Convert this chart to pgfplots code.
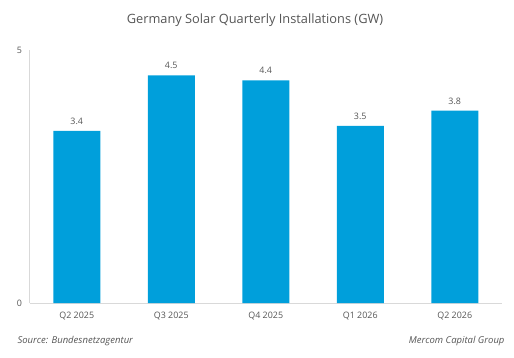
\documentclass[border=0pt]{standalone}
\usepackage{pgfplots}
\pgfplotsset{compat=1.18}
\usepackage{fontspec}
\setmainfont{Open Sans}
\definecolor{barblue}{HTML}{009FDB}
\definecolor{txtgray}{HTML}{555555}
\definecolor{axgray}{HTML}{D9D9D9}
\begin{document}
\begin{tikzpicture}[x=1pt,y=1pt]
\path[use as bounding box] (0,0) rectangle (514,357);
\node[text=txtgray, font=\fontsize{12.8}{14}\selectfont] at (255,337) {Germany Solar Quarterly Installations (GW)};
\begin{axis}[
  at={(29.5pt,54pt)}, anchor=south west,
  width=472.5pt, height=253pt, scale only axis,
  xmin=-0.5, xmax=4.5, ymin=0, ymax=5,
  ytick={0,5}, xtick={0,1,2,3,4},
  xticklabels={Q2 2025,Q3 2025,Q4 2025,Q1 2026,Q2 2026},
  axis x line*=bottom, axis y line*=left,
  axis line style={axgray, line width=1pt},
  x axis line style={-}, y axis line style={-},
  major tick length=0pt,
  tick label style={text=txtgray, font=\fontsize{8.9}{10}\selectfont},
  /pgf/number format/assume math mode=true,
  yticklabel style={xshift=-4pt},
  xticklabel style={yshift=-6pt},
  ybar, bar width=47pt,
  nodes near coords,
  nodes near coords style={text=txtgray, font=\fontsize{8.9}{10}\selectfont, /pgf/number format/fixed, /pgf/number format/fixed zerofill, /pgf/number format/precision=1, /pgf/number format/assume math mode=true, yshift=3pt},
  clip=false,
]
\addplot[fill=barblue, draw=none] coordinates {(0,3.4) (1,4.5) (2,4.4) (3,3.5) (4,3.8)};
\end{axis}
\node[anchor=west, text=txtgray, font=\fontsize{9.5}{11}\selectfont\itshape] at (14,16) {Source: Bundesnetzagentur};
\node[anchor=east, text=txtgray, font=\fontsize{9.5}{11}\selectfont\itshape] at (508,16) {Mercom Capital Group};
\end{tikzpicture}
\end{document}
